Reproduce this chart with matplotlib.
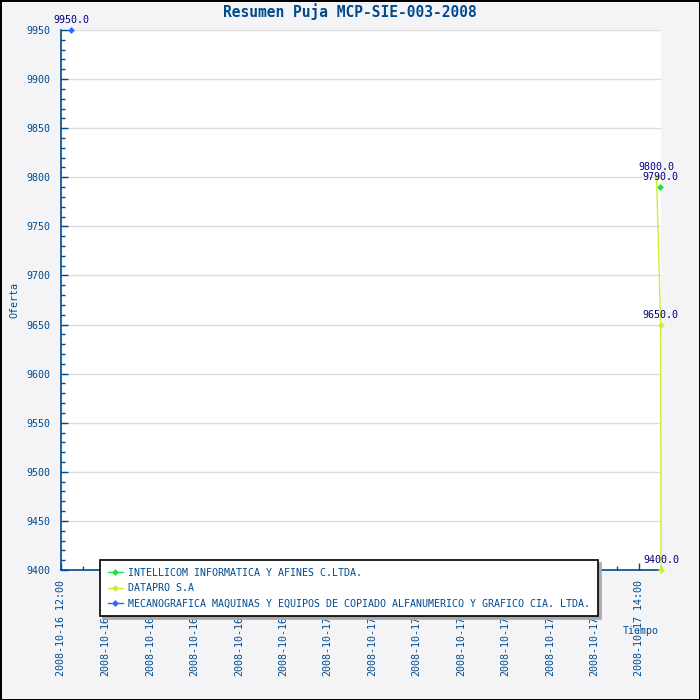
import pandas as pd
import matplotlib
matplotlib.use("Agg")
import matplotlib.pyplot as plt
import matplotlib.transforms as mtransforms
from matplotlib.ticker import MultipleLocator

# --- datos de la puja ---
start = pd.Timestamp("2008-10-16 12:00")
end = pd.Timestamp("2008-10-17 15:00")

names = ["INTELLICOM INFORMATICA Y AFINES C.LTDA.",
         "DATAPRO S.A",
         "MECANOGRAFICA MAQUINAS Y EQUIPOS DE COPIADO ALFANUMERICO Y GRAFICO CIA. LTDA."]
intellicom_t = ["2008-10-17 14:58"]
intellicom_v = [9790.0]
datapro_t = ["2008-10-17 14:48", "2008-10-17 14:59", "2008-10-17 15:00"]
datapro_v = [9800.0, 9650.0, 9400.0]
meca_t = ["2008-10-16 12:27"]
meca_v = [9950.0]
colors = ["#22dd44", "#ccee33", "#3366ff"]

tick_times = pd.date_range(start, "2008-10-17 14:00", freq="2h")

def hours(ts):
    return [(pd.Timestamp(t) - start).total_seconds() / 3600 for t in ts]

BG = "#f4f4f6"
AXC = "#004a8f"
MONO = "DejaVu Sans Mono"

fig = plt.figure(figsize=(7, 7), dpi=100)
fig.patch.set_facecolor(BG)
fig.patch.set_edgecolor("black")
fig.patch.set_linewidth(2)

ax = fig.add_axes([61/700, 1-570/700, 600/700, 540/700])
ax.set_facecolor("white")
ax.set_xlim(0, (end - start).total_seconds() / 3600)
ax.set_ylim(9400, 9950)

for s in ["top", "right"]:
    ax.spines[s].set_visible(False)
for s in ["left", "bottom"]:
    ax.spines[s].set_color(AXC)
    ax.spines[s].set_linewidth(1.2)

ax.yaxis.set_major_locator(MultipleLocator(50))
ax.yaxis.set_minor_locator(MultipleLocator(10))
ax.xaxis.set_major_locator(MultipleLocator(2))
ax.xaxis.set_minor_locator(MultipleLocator(1))
ax.tick_params(axis="both", which="both", direction="in", color=AXC, width=1)
ax.tick_params(axis="both", which="major", length=5)
ax.tick_params(axis="both", which="minor", length=3)
ax.tick_params(axis="y", labelcolor=AXC, labelsize=7.2, pad=8)
ax.tick_params(axis="x", labelbottom=False)
for lab in ax.get_yticklabels():
    lab.set_family(MONO)
ax.yaxis.grid(True, color="#dddddd", linewidth=1)
ax.set_axisbelow(True)

# etiquetas del eje x (alineadas abajo, como en el original)
trans = mtransforms.blended_transform_factory(ax.transData, fig.transFigure)
for i, t in enumerate(tick_times):
    if i == 0 or i == len(tick_times) - 1:
        txt = t.strftime("%Y-%m-%d %H:%M")
    else:
        txt = t.strftime("%Y-%m-%d")
    ax.text(hours([t])[0], 1 - 676/700, txt, transform=trans, rotation=90,
            ha="center", va="bottom", fontsize=7.2, family=MONO, color=AXC,
            clip_on=False)

series = [(intellicom_t, intellicom_v), (datapro_t, datapro_v), (meca_t, meca_v)]
for (ts, vs), name, c in zip(series, names, colors):
    xs = hours(ts)
    ax.plot(xs, vs, color=c, linewidth=1, marker="D", markersize=3.5,
            markeredgewidth=0, label=name, clip_on=False, zorder=3)
    for x, v in zip(xs, vs):
        ax.annotate(f"{v:.1f}", (x, v), xytext=(0, 5), textcoords="offset pixels",
                    ha="center", va="bottom", fontsize=7.2, family=MONO,
                    color="#000080", zorder=4, annotation_clip=False)

fig.text(350/700, 1 - 12/700, "Resumen Puja MCP-SIE-003-2008", ha="center",
         va="center", fontsize=10.5, fontweight="bold", family=MONO, color=AXC)
fig.text(14/700, 1 - 300/700, "Oferta", rotation=90, ha="center", va="center",
         fontsize=7.2, family=MONO, color=AXC)
fig.text(641/700, 1 - 631/700, "Tiempo", ha="center", va="center",
         fontsize=7.2, family=MONO, color=AXC)

leg = ax.legend(loc="upper left", bbox_to_anchor=(100/700, 1 - 560/700),
                bbox_transform=fig.transFigure, prop={"family": MONO, "size": 7.2},
                frameon=True, fancybox=False, shadow={"color": "#aaaaaa", "alpha": 1},
                borderpad=0.75, labelspacing=0.55, handlelength=1.5,
                handletextpad=0.6, borderaxespad=0)
leg.get_frame().set_edgecolor("black")
leg.get_frame().set_linewidth(1.2)
for t in leg.get_texts():
    t.set_color(AXC)

fig.savefig("out.png", dpi=100, facecolor=BG, edgecolor="black")
